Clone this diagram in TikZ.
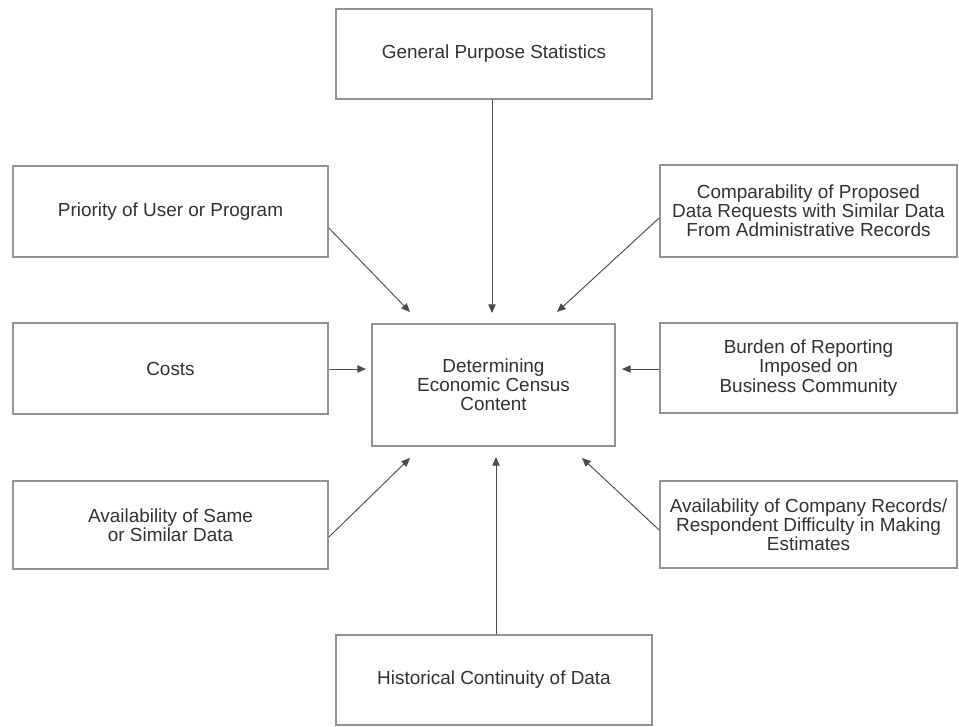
\documentclass[tikz,border=0pt]{standalone}
\usepackage{fontspec}
\setmainfont{Liberation Sans}
\usetikzlibrary{arrows.meta,calc}
\begin{document}
\begin{tikzpicture}[x=0.75pt,y=-0.75pt,
 box/.style={draw=black!42, line width=1.3pt, fill=white, inner sep=0pt, align=center, text=black!80, font=\fontsize{14.2pt}{14.4pt}\selectfont},
 arr/.style={draw=black!70, line width=0.7pt, -{Triangle[length=6.5pt,width=5.5pt]}}]
\useasboundingbox (0,0) rectangle (959,726);
\node[box, minimum width=237pt, minimum height=67.5pt] (top) at (494,54) {General Purpose Statistics};
\node[box, minimum width=236.25pt, minimum height=68.25pt] (pri) at (170.5,211.5) {Priority of User or Program};
\node[box, minimum width=222.75pt, minimum height=69pt] (comp) at (808.5,211) {Comparability of Proposed\\Data Requests with Similar Data\\From Administrative Records};
\node[box, minimum width=236.25pt, minimum height=68.25pt] (cost) at (170.5,368.5) {Costs};
\node[box, minimum width=182.25pt, minimum height=91.5pt] (cen) at (493.5,385) {Determining\\Economic Census\\Content};
\node[box, minimum width=222.75pt, minimum height=67.5pt] (burd) at (808.5,368) {Burden of Reporting\\Imposed on\\Business Community};
\node[box, minimum width=236.25pt, minimum height=66pt] (avs) at (170.5,525) {Availability of Same\\or Similar Data};
\node[box, minimum width=222.75pt, minimum height=65.25pt] (avc) at (808.5,524.5) {Availability of Company Records/\\Respondent Difficulty in Making\\Estimates};
\node[box, minimum width=237pt, minimum height=67.5pt] (hist) at (494,680) {Historical Continuity of Data};
% arrow tips (free ends near the central box)
\coordinate (tT) at (492,313);
\coordinate (tH) at (496,457);
\coordinate (tC) at (366,369);
\coordinate (tB) at (622,369);
\coordinate (tP) at (410,312);
\coordinate (tM) at (557,312);
\coordinate (tS) at (410,458);
\coordinate (tA) at (582,458);
\draw[arr] (top.south -| tT) -- (tT);
\draw[arr] (hist.north -| tH) -- (tH);
\draw[arr] (cost.east |- tC) -- (tC);
\draw[arr] (burd.west |- tB) -- (tB);
\draw[arr] ([yshift=-12.4pt]pri.east) -- (tP);
\draw[arr] ([yshift=-5.25pt]comp.west) -- (tM);
\draw[arr] ([yshift=-9pt]avs.east) -- (tS);
\draw[arr] ([yshift=-4.1pt]avc.west) -- (tA);
\end{tikzpicture}
\end{document}
